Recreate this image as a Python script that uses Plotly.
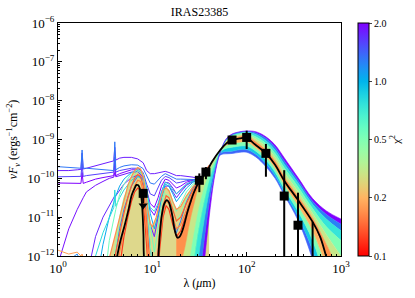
import numpy as np
import plotly.graph_objects as go

# ---------------- data (log10 of nuFnu) ----------------
title_text = "IRAS23385"
chi_ticks = [0.1, 0.2, 0.5, 1.0, 2.0]
x_tick_vals = [1, 10, 100, 1000]
x_tick_text = ["10<sup>0</sup>", "10<sup>1</sup>", "10<sup>2</sup>", "10<sup>3</sup>"]
y_tick_exp = [-12, -11, -10, -9, -8, -7, -6]

# observed photometry
obs_lam = [31.5, 37.0, 70.0, 100.0, 160.0, 250.0, 350.0, 500.0]
obs_flux = [8.9e-11, 1.45e-10, 9.7e-10, 1.13e-9, 4.4e-10, 3.5e-11, 6.2e-12, 5.0e-13]
obs_err = [4.5e-11, 5.0e-11, 0.0, 5.6e-10, 3.3e-10, 1.27e-10, 3.65e-11, 7.1e-12]
# upper limit
ul_lam = [8.0]
ul_flux = [4.1e-11]
ul_tip = [2.0e-11]

# best fit model
best_lam = [4.2, 4.6, 5.1, 5.6, 6.05, 6.5, 6.8, 7.1, 7.4, 7.7, 7.9, 8.05, 8.2, 9.5,
            11.4, 11.6, 12.0, 12.6, 13.4, 14.3, 15.0, 15.7, 16.4, 17.0, 17.8, 18.5,
            19.5, 20.6, 22.0, 23.6, 25.5, 27.3, 31.6, 37.0, 42.8, 52.5, 61.7, 70.0,
            85.0, 100.0, 123.0, 160.0, 200.0, 250.0, 350.0, 500.0, 600.0, 695.0, 800.0]
best_logf = [-12.05, -11.6, -11.2, -10.8, -10.43, -10.25, -10.17, -10.18, -10.28, -10.55,
             -10.95, -11.45, -12.1, -13.0,
             -12.3, -12.0, -11.45, -10.95, -10.65, -10.56, -10.62, -10.78, -11.0, -11.25,
             -11.45, -11.53, -11.5, -11.38, -11.15, -10.86, -10.6, -10.39, -10.07, -9.86,
             -9.58, -9.27, -9.09, -9.02, -8.97, -8.96, -9.13, -9.36, -9.65, -10.06,
             -10.56, -11.12, -11.5, -12.0, -12.5]

# far-IR model family on a common grid
fir_lam = [18, 20, 22, 25, 28, 31, 35, 40, 45, 50, 55, 60, 70, 85, 100, 125, 160, 200,
           250, 350, 500, 700, 1000]
fir_best = [-11.53, -11.42, -11.15, -10.65, -10.32, -10.07, -9.9, -9.68, -9.5, -9.33,
            -9.2, -9.1, -9.02, -8.97, -8.96, -9.15, -9.36, -9.65, -10.06, -10.56,
            -11.12, -12.0, -13.0]
fir_upper_chi = [0.17, 0.3, 0.5, 0.75, 1.25, 2.0]
fir_upper = [
    [-13.5, -12.2, -11.8, -11.1, -10.6, -10.2, -9.95, -9.72, -9.52, -9.34, -9.19, -9.08,
     -8.98, -8.92, -8.9, -9.06, -9.27, -9.55, -9.96, -10.46, -11.02, -11.7, -12.5],
    [-14.0, -13.5, -12.8, -12.0, -11.3, -10.75, -10.25, -9.85, -9.58, -9.36, -9.18, -9.05,
     -8.94, -8.88, -8.86, -8.99, -9.18, -9.45, -9.84, -10.34, -10.9, -11.45, -12.0],
    [-14.0, -14.0, -13.8, -13.0, -12.0, -11.3, -10.65, -10.05, -9.68, -9.4, -9.19, -9.04,
     -8.91, -8.85, -8.83, -8.93, -9.1, -9.36, -9.73, -10.22, -10.78, -11.25, -11.6],
    [-14.0, -14.0, -14.0, -14.0, -13.0, -12.0, -11.15, -10.35, -9.82, -9.45, -9.2, -9.03,
     -8.89, -8.83, -8.81, -8.87, -9.03, -9.27, -9.63, -10.12, -10.67, -11.05, -11.35],
    [-14.0, -14.0, -14.0, -14.0, -14.0, -12.8, -11.7, -10.65, -9.95, -9.48, -9.2, -9.01,
     -8.87, -8.81, -8.79, -8.83, -8.97, -9.2, -9.55, -10.05, -10.59, -10.93, -11.18],
    [-14.0, -14.0, -14.0, -14.0, -13.6, -13.3, -12.3, -11.0, -10.05, -9.5, -9.2, -9.0,
     -8.86, -8.8, -8.78, -8.8, -8.93, -9.14, -9.47, -9.98, -10.52, -10.84, -11.05],
]
fir_lower_chi = [0.2, 0.5, 0.9, 1.4]
fir_lower = [
    [-14.0, -13.1, -12.4, -11.6, -10.95, -10.5, -10.2, -9.85, -9.6, -9.37, -9.25, -9.16,
     -9.1, -9.07, -9.06, -9.22, -9.44, -9.74, -10.16, -10.7, -11.35, -12.3, -13.5],
    [-14.0, -14.0, -13.4, -12.5, -11.6, -11.0, -10.55, -10.05, -9.7, -9.4, -9.28, -9.23,
     -9.2, -9.17, -9.17, -9.3, -9.53, -9.84, -10.27, -10.85, -11.6, -12.7, -14.0],
    [-14.0, -14.0, -14.0, -13.3, -12.3, -11.5, -10.85, -10.2, -9.75, -9.42, -9.33, -9.31,
     -9.3, -9.26, -9.26, -9.38, -9.62, -9.93, -10.36, -10.98, -11.85, -13.0, -14.0],
    [-14.0, -14.0, -14.0, -14.0, -12.7, -11.8, -11.0, -10.3, -9.8, -9.45, -9.38, -9.37,
     -9.36, -9.33, -9.33, -9.45, -9.7, -10.0, -10.43, -11.08, -12.1, -13.5, -14.0],
]

# mid-IR envelope of the good models (filled) and orange models
env_lam = [3.3, 4.0, 4.5, 5.0, 5.5, 6.0, 6.5, 7.0, 7.5, 8.0, 8.5, 9.0, 9.5, 10.0, 11.0,
           12.0, 13.0, 14.0, 15.0, 16.5, 18.0, 20.0, 23.0, 27.0, 31.0, 35.0, 40.0]
env_models_chi = [0.17, 0.14, 0.12, 0.16]
env_models = [
    [-12.3, -11.5, -10.95, -10.5, -10.18, -9.95, -9.8, -9.72, -9.76, -9.95, -10.35, -10.85,
     -11.15, -11.25, -11.0, -10.6, -10.32, -10.24, -10.32, -10.6, -10.8, -10.72, -10.45,
     -10.22, -10.07, -9.9, -9.68],
    [-13.0, -12.0, -11.4, -10.9, -10.5, -10.2, -10.0, -9.9, -9.95, -10.2, -10.8, -11.6,
     -12.5, -13.0, -12.4, -11.3, -10.7, -10.45, -10.5, -10.85, -11.1, -11.0, -10.65, -10.3,
     -10.1, -9.9, -9.68],
    [-13.0, -13.0, -12.3, -11.5, -11.0, -10.6, -10.35, -10.25, -10.3, -10.6, -11.4, -12.5,
     -13.0, -13.0, -13.0, -11.8, -11.0, -10.7, -10.8, -11.2, -11.5, -11.35, -10.9, -10.4,
     -10.1, -9.9, -9.68],
    [-13.0, -12.6, -11.9, -11.3, -10.85, -10.45, -10.2, -10.05, -10.08, -10.35, -11.0,
     -12.0, -13.0, -13.0, -12.8, -11.6, -10.9, -10.58, -10.65, -11.0, -11.3, -11.2, -10.8,
     -10.35, -10.1, -9.9, -9.68],
]

# individual near/mid-IR models
mir_lam = [1.0, 1.3, 1.6, 1.75, 1.8, 1.85, 2.0, 2.5, 3.0, 3.5, 3.9, 4.0, 4.1, 4.5, 5.0,
           6.0, 7.0, 8.0, 8.7, 9.5, 10.5, 11.5, 12.5, 13.7, 15.0, 16.5, 18.0, 20.0, 23.0,
           27.0, 31.0]
mir_chi = [2.0, 1.9, 1.8, 1.75, 1.6, 1.3, 1.25, 1.05, 0.8, 0.55, 0.45, 1.2, 0.18]
mir_models = [
    [-10.12, -10.12, -10.13, -10.13, -9.85, -10.13, -10.1, -10.02, -9.98, -9.95, -9.93,
     -9.6, -9.93, -9.88, -9.84, -9.78, -9.78, -9.92, -10.3, -10.65, -10.75, -10.5, -10.2,
     -10.02, -10.05, -10.15, -10.25, -10.2, -10.1, -10.05, -10.04],
    [-12.2, -11.3, -10.8, -10.6, -10.55, -10.5, -10.35, -10.18, -10.08, -10.0, -9.97,
     -9.85, -9.96, -9.93, -9.9, -9.84, -9.83, -9.98, -10.4, -10.8, -10.95, -10.7, -10.35,
     -10.1, -10.12, -10.25, -10.4, -10.3, -10.15, -10.07, -10.04],
    [-9.8, -9.8, -9.78, -9.77, -9.35, -9.76, -9.74, -9.68, -9.62, -9.57, -9.55, -9.2,
     -9.53, -9.48, -9.46, -9.46, -9.5, -9.6, -9.8, -9.88, -9.88, -9.86, -9.84, -9.82,
     -9.85, -9.9, -9.93, -9.93, -9.94, -9.97, -10.01],
    [-13.0, -13.0, -13.0, -13.0, -13.0, -13.0, -12.6, -11.5, -11.0, -10.7, -10.5, -10.45,
     -10.45, -10.3, -10.15, -9.98, -9.92, -10.05, -10.5, -11.2, -11.5, -11.0, -10.5, -10.2,
     -10.2, -10.35, -10.5, -10.35, -10.18, -10.08, -10.05],
    [-9.96, -9.96, -9.95, -9.95, -9.62, -9.95, -9.93, -9.9, -9.88, -9.86, -9.84, -9.45,
     -9.84, -9.8, -9.78, -9.74, -9.74, -9.85, -10.15, -10.4, -10.45, -10.25, -10.05, -9.95,
     -9.98, -10.05, -10.12, -10.1, -10.06, -10.04, -10.04],
    [-9.7, -9.72, -9.73, -9.74, -9.27, -9.74, -9.74, -9.76, -9.78, -9.79, -9.8, -9.06,
     -9.78, -9.72, -9.68, -9.65, -9.66, -9.75, -9.95, -10.12, -10.15, -10.05, -9.95, -9.88,
     -9.92, -9.98, -10.02, -10.02, -10.02, -10.03, -10.04],
    [-13.0, -13.0, -13.0, -13.0, -13.0, -13.0, -13.0, -13.0, -13.0, -13.0, -12.4, -12.0,
     -11.9, -11.3, -10.8, -10.2, -9.95, -10.0, -10.6, -11.8, -12.5, -11.9, -11.1, -10.55,
     -10.6, -11.0, -11.4, -11.1, -10.6, -10.25, -10.08],
    [-13.0, -13.0, -13.0, -13.0, -13.0, -13.0, -13.0, -12.8, -11.7, -11.0, -10.6, -10.5,
     -10.45, -10.2, -10.02, -9.85, -9.8, -9.92, -10.25, -10.9, -11.3, -10.95, -10.5,
     -10.15, -10.2, -10.4, -10.6, -10.45, -10.25, -10.1, -10.05],
    [-13.0, -13.0, -13.0, -13.0, -13.0, -13.0, -12.9, -12.0, -11.4, -11.0, -10.75, -10.3,
     -10.72, -10.5, -10.3, -10.05, -9.95, -10.05, -10.4, -10.75, -10.85, -10.65, -10.35,
     -10.1, -10.15, -10.3, -10.4, -10.3, -10.15, -10.07, -10.04],
    [-13.0, -13.0, -13.0, -13.0, -13.0, -13.0, -13.0, -13.0, -13.0, -11.6, -11.0, -10.9,
     -10.8, -10.42, -10.15, -9.88, -9.78, -9.88, -10.35, -11.2, -11.9, -11.3, -10.65,
     -10.25, -10.3, -10.6, -10.85, -10.65, -10.35, -10.15, -10.06],
    [-13.0, -13.0, -13.0, -13.0, -13.0, -13.0, -13.0, -13.0, -13.0, -13.0, -12.1, -11.9,
     -11.7, -11.0, -10.5, -10.0, -9.82, -9.9, -10.5, -12.0, -13.0, -12.2, -11.0, -10.4,
     -10.45, -10.8, -11.1, -10.9, -10.5, -10.2, -10.06],
    [-12.0, -12.1, -11.95, -12.2, -12.1, -12.25, -12.6, -13.0, -13.0, -13.0, -13.0, -13.0,
     -13.0, -13.0, -13.0, -13.0, -13.0, -13.0, -13.0, -13.0, -13.0, -13.0, -13.0, -13.0,
     -13.0, -13.0, -13.0, -13.0, -13.0, -13.0, -13.0],
    [-11.85, -11.95, -11.9, -12.0, -11.95, -12.05, -12.1, -12.4, -13.0, -13.0, -13.0,
     -13.0, -13.0, -13.0, -13.0, -13.0, -13.0, -13.0, -13.0, -13.0, -13.0, -13.0, -13.0,
     -13.0, -13.0, -13.0, -13.0, -13.0, -13.0, -13.0, -13.0],
]
khaki = "rgb(222,216,140)"

# ---------------- colour mapping (rainbow, red=0.1 ... purple=2.0) ----------------
def rainbow_rgb(f):
    x = 1.0 - f
    r = min(max(abs(2 * x - 0.5), 0), 1)
    g = min(max(np.sin(np.pi * x), 0), 1)
    b = min(max(np.cos(np.pi * x / 2), 0), 1)
    return "rgb(%d,%d,%d)" % (round(r * 255), round(g * 255), round(b * 255))


def chi_frac(c):
    return float(np.interp(np.log10(c), np.log10(chi_ticks), np.linspace(0, 1, len(chi_ticks))))


def chi_color(c):
    return rainbow_rgb(chi_frac(c))


colorscale = [[f, rainbow_rgb(f)] for f in np.linspace(0, 1, 21)]

fig = go.Figure()

def pw(v):
    return [10.0 ** a for a in v]

# khaki fill of the good models in the mid-IR
poly_x = list(env_lam) + [env_lam[-1], env_lam[0]]
poly_y = pw(env_models[0]) + [1e-14, 1e-14]
fig.add_trace(go.Scatter(x=poly_x, y=poly_y, mode="lines", fill="toself",
                         fillcolor=khaki, line=dict(width=0), hoverinfo="skip",
                         showlegend=False))

# far-IR lower family stripes
fig.add_trace(go.Scatter(x=fir_lam, y=pw(fir_best), mode="lines",
                         line=dict(width=0), showlegend=False, hoverinfo="skip"))
for chi, vals in zip(fir_lower_chi, fir_lower):
    col = chi_color(chi)
    fig.add_trace(go.Scatter(x=fir_lam, y=pw(vals), mode="lines", fill="tonexty",
                             fillcolor=col, line=dict(color=col, width=0.6),
                             line_shape="spline", showlegend=False, hoverinfo="skip"))

# far-IR upper family stripes
fig.add_trace(go.Scatter(x=fir_lam, y=pw(fir_best), mode="lines",
                         line=dict(width=0), showlegend=False, hoverinfo="skip"))
for chi, vals in zip(fir_upper_chi, fir_upper):
    col = chi_color(chi)
    fig.add_trace(go.Scatter(x=fir_lam, y=pw(vals), mode="lines", fill="tonexty",
                             fillcolor=col, line=dict(color=col, width=0.6),
                             line_shape="spline", showlegend=False, hoverinfo="skip"))

# individual mid-IR models (worst first)
order = np.argsort(mir_chi)[::-1]
for i in order:
    fig.add_trace(go.Scatter(x=mir_lam, y=pw(mir_models[i]), mode="lines",
                             line=dict(color=chi_color(mir_chi[i]), width=1),
                             showlegend=False, hoverinfo="skip"))

# orange good models
for chi, vals in zip(env_models_chi, env_models):
    fig.add_trace(go.Scatter(x=env_lam, y=pw(vals), mode="lines",
                             line=dict(color=chi_color(chi), width=1.2),
                             showlegend=False, hoverinfo="skip"))

# best fit
fig.add_trace(go.Scatter(x=best_lam, y=pw(best_logf), mode="lines",
                         line=dict(color="black", width=1.8), line_shape="spline",
                         showlegend=False))

# error bars
ex, ey = [], []
for lam, f, e in zip(obs_lam, obs_flux, obs_err):
    if e > 0:
        ex += [lam, lam, None]
        ey += [max(f - e, 1e-14), f + e, None]
fig.add_trace(go.Scatter(x=ex, y=ey, mode="lines", line=dict(color="black", width=2),
                         showlegend=False, hoverinfo="skip"))
# upper limit
fig.add_trace(go.Scatter(x=ul_lam * 2, y=[ul_flux[0], ul_tip[0] * 1.15], mode="lines",
                         line=dict(color="black", width=2), showlegend=False))
fig.add_trace(go.Scatter(x=ul_lam, y=ul_tip, mode="markers",
                         marker=dict(symbol="triangle-down", size=8, color="black"),
                         showlegend=False))
fig.add_trace(go.Scatter(x=obs_lam + ul_lam, y=obs_flux + ul_flux, mode="markers",
                         marker=dict(symbol="square", size=9, color="black"),
                         showlegend=False))

# colorbar carrier
fig.add_trace(go.Scatter(x=[10, 10], y=[1e-15, 1e-15], mode="markers",
                         marker=dict(color=[0, 1], colorscale=colorscale, cmin=0, cmax=1,
                                     size=1, showscale=True,
                                     colorbar=dict(
                                         x=1.06, xanchor="left", y=0.5, yanchor="middle",
                                         xpad=0, ypad=0,
                                         lenmode="pixels", len=233, thickness=11,
                                         outlinewidth=1, outlinecolor="black",
                                         tickmode="array",
                                         tickvals=[chi_frac(c) for c in chi_ticks],
                                         ticktext=["%.1f" % c for c in chi_ticks],
                                         ticks="outside", ticklen=3,
                                         tickfont=dict(family="Liberation Serif", size=10,
                                                       color="black"),
                                         title=dict(text="χ<sup>2</sup>", side="right",
                                                    font=dict(family="Liberation Serif",
                                                              size=11, color="black")))),
                         showlegend=False, hoverinfo="skip"))

font_main = dict(family="Liberation Serif", size=12, color="black")
fig.update_layout(
    width=415, height=298,
    margin=dict(l=58, r=74, t=23, b=42, autoexpand=False),
    paper_bgcolor="white", plot_bgcolor="white",
    font=font_main,
    title=dict(text=title_text, x=0.5, xref="paper", xanchor="center",
               y=1 - 12 / 298, yanchor="middle",
               font=dict(family="Liberation Serif", size=12, color="black")),
    xaxis=dict(type="log", range=[0, 3], tickmode="array", tickvals=x_tick_vals,
               ticktext=x_tick_text, ticks="inside", ticklen=4, tickcolor="black",
               minor=dict(ticks="inside", ticklen=2, dtick="D1", tickcolor="black"),
               showline=True, linecolor="black", linewidth=1, mirror=True,
               showgrid=False, zeroline=False,
               tickfont=dict(family="Liberation Serif", size=13, color="black"),
               title=dict(text="λ (<i>μ</i>m)", standoff=4,
                          font=dict(family="Liberation Serif", size=12, color="black"))),
    yaxis=dict(type="log", range=[-12, -6], tickmode="array",
               tickvals=[10.0 ** e for e in y_tick_exp],
               ticktext=["10<sup>−%d</sup>" % (-e) for e in y_tick_exp],
               ticks="inside", ticklen=4, tickcolor="black",
               minor=dict(ticks="inside", ticklen=2, dtick="D1", tickcolor="black"),
               showline=True, linecolor="black", linewidth=1, mirror=True,
               showgrid=False, zeroline=False,
               tickfont=dict(family="Liberation Serif", size=13, color="black"),
               title=dict(text="<i>νF<sub>ν</sub></i> (ergs<sup>−1</sup>cm<sup>−2</sup>)",
                          standoff=6,
                          font=dict(family="Liberation Serif", size=12, color="black"))),
)

fig.write_html("out.html", config={"displayModeBar": False},
               post_script="document.body.style.margin='0';"
                           "document.body.style.overflow='hidden';")
